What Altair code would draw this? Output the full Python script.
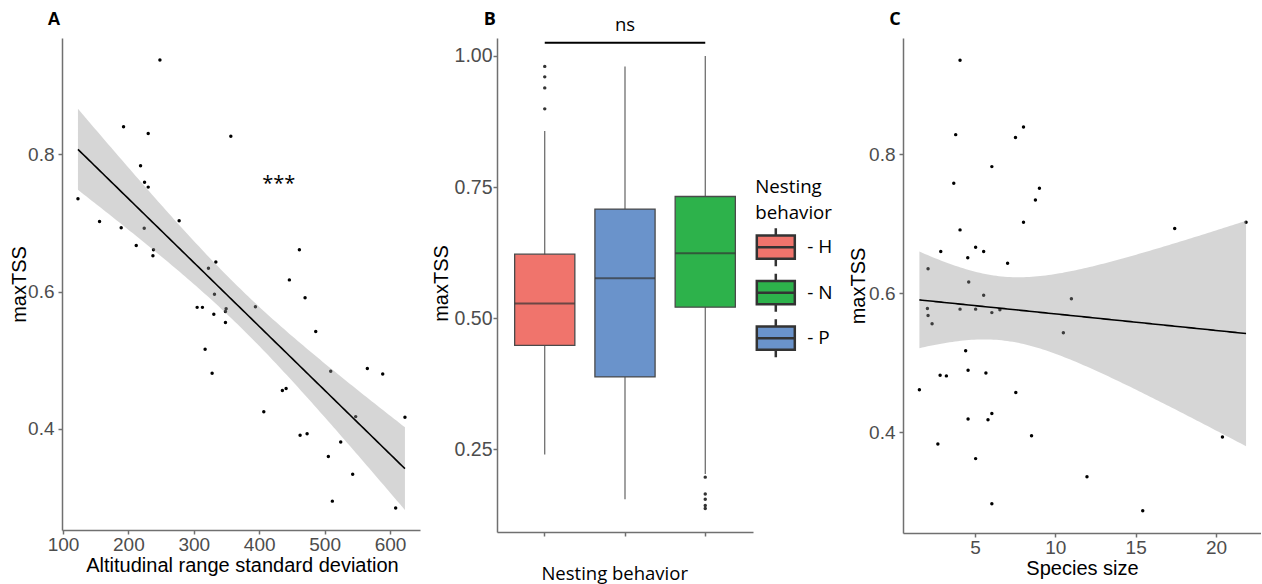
import altair as alt
import numpy as np
import pandas as pd

# ---------------- data ----------------
# Panel A: altitudinal range SD vs maxTSS
alt_sd = [248.2, 122.9, 192.6, 230.3, 356.6, 218.6, 224.7, 230.3, 155.9, 277.6,
          189.0, 224.2, 212.0, 238.4, 237.5, 461.4, 333.7, 322.4, 446.1, 331.6,
          470.1, 305.1, 313.2, 394.2, 349.4, 348.4, 330.6, 348.4, 486.4, 317.3,
          328.0, 509.3, 565.3, 588.8, 435.4, 441.1, 407.0, 547.5, 622.8, 462.5,
          473.2, 524.6, 505.7, 542.9, 511.8, 608.6]
tss_a = [0.937, 0.735, 0.840, 0.830, 0.826, 0.783, 0.759, 0.752, 0.702, 0.703,
         0.693, 0.692, 0.667, 0.661, 0.652, 0.661, 0.643, 0.634, 0.617, 0.596,
         0.591, 0.577, 0.577, 0.578, 0.575, 0.571, 0.567, 0.555, 0.542, 0.516,
         0.481, 0.484, 0.488, 0.480, 0.456, 0.459, 0.425, 0.418, 0.417, 0.391,
         0.393, 0.381, 0.360, 0.334, 0.295, 0.285]

# Panel C: species size vs maxTSS
species_size = [4.07, 8.02, 3.80, 7.52, 6.05, 3.68, 9.01, 8.76, 8.02, 21.87,
                4.07, 17.43, 2.87, 5.04, 5.54, 4.55, 7.03, 2.08, 4.61, 5.54,
                11.0, 2.04, 4.07, 5.04, 6.55, 6.05, 2.08, 2.33, 10.50, 4.42,
                4.57, 2.83, 3.22, 5.68, 1.54, 7.54, 6.05, 4.57, 5.81, 8.52,
                20.40, 2.69, 5.04, 11.97, 6.05, 15.44]
tss_c = [0.935, 0.839, 0.828, 0.824, 0.782, 0.758, 0.751, 0.734, 0.702, 0.702,
         0.691, 0.693, 0.660, 0.666, 0.660, 0.651, 0.643, 0.635, 0.616, 0.597,
         0.592, 0.578, 0.577, 0.577, 0.576, 0.572, 0.568, 0.556, 0.543, 0.517,
         0.489, 0.482, 0.481, 0.485, 0.461, 0.457, 0.427, 0.419, 0.418, 0.395,
         0.393, 0.383, 0.362, 0.336, 0.297, 0.287]

# Panel B: box plot summaries by nesting behavior
nesting = ["H", "P", "N"]
q1 = [0.448, 0.388, 0.521]
median = [0.528, 0.576, 0.624]
q3 = [0.622, 0.708, 0.732]
whisk_lo = [0.240, 0.155, 0.203]
whisk_hi = [0.857, 0.980, 1.000]
out_cat = ["H", "H", "H", "H", "N", "N", "N", "N", "N"]
out_val = [0.980, 0.960, 0.939, 0.899, 0.197, 0.165, 0.155, 0.143, 0.137]

legend_order = ["H", "N", "P"]
legend_colors = ["#F0746C", "#2DB24B", "#6A93CB"]

ticks_a = [100, 200, 300, 400, 500, 600]
ticks_ac_y = [0.4, 0.6, 0.8]
ticks_b_y = [0.25, 0.50, 0.75, 1.00]
ticks_c = [5, 10, 15, 20]

# ---------------- helpers ----------------
T975 = 2.0154  # t quantile, df = 44


def lm_band(x, y, n=120):
    x = np.asarray(x, float)
    y = np.asarray(y, float)
    b1, b0 = np.polyfit(x, y, 1)
    res = y - (b0 + b1 * x)
    s = np.sqrt((res ** 2).sum() / (len(x) - 2))
    xs = np.linspace(x.min(), x.max(), n)
    se = s * np.sqrt(1 / len(x) + (xs - x.mean()) ** 2 / ((x - x.mean()) ** 2).sum())
    f = b0 + b1 * xs
    return pd.DataFrame({"xv": xs, "yv": f, "lo": f - T975 * se, "hi": f + T975 * se})


SANS = "Liberation Sans"
CAL = "Open Sans"
AXC = "#707070"
AX = dict(grid=False, domainColor=AXC, domainWidth=1.5, tickColor=AXC, tickWidth=1.5,
          tickSize=4, labelFont=SANS, labelColor="#4D4D4D", titleFont=SANS,
          titleColor="black", titleFontWeight="normal", titleFontSize=20,
          labelFlush=False, labelOverlap=False)


def label_layer(letter, dx, dy, font):
    return alt.Chart(pd.DataFrame({"t": [letter]})).mark_text(
        font=font, fontSize=18, fontWeight="bold", color="black",
        align="center", baseline="middle"
    ).encode(text="t:N", x=alt.value(dx), y=alt.value(dy))


def scatter_panel(xs, ys, xdom, ydom, w, h, xticks, xtitle, xtitle_x, ytitle_x, letter, letter_font):
    pts = pd.DataFrame({"xv": xs, "yv": ys})
    fit = lm_band(xs, ys)
    X = alt.X("xv:Q", scale=alt.Scale(domain=xdom, nice=False, zero=False),
              axis=alt.Axis(values=xticks, labelFontSize=19, labelPadding=1, title=xtitle,
                            titleX=xtitle_x, titleY=41, titleBaseline="alphabetic",
                            titleAlign="center", **AX))
    Y = alt.Y("yv:Q", scale=alt.Scale(domain=ydom, nice=False, zero=False),
              axis=alt.Axis(values=ticks_ac_y, format=".1f", labelFontSize=19, labelPadding=4,
                            title="maxTSS", titleX=ytitle_x, titleY=h / 2, titleAngle=270,
                            titleBaseline="middle", titleAlign="center", **AX))
    p = alt.Chart(pts).mark_circle(size=12, color="black", opacity=1).encode(x=X, y=Y)
    band = alt.Chart(fit).mark_area(color="#999999", opacity=0.4).encode(
        x="xv:Q", y="lo:Q", y2="hi:Q")
    line = alt.Chart(fit).mark_line(color="black", strokeWidth=1.6).encode(x="xv:Q", y="yv:Q")
    lab = label_layer(letter, -8, -18.5, letter_font)
    return alt.layer(p, band, line, lab).properties(width=w, height=h)


# ---------------- panel A ----------------
stars = pd.DataFrame({"xv": [430.0], "yv": [0.757], "t": ["***"]})
chart_a = scatter_panel(alt_sd, tss_a, [98.5, 645.8], [0.253, 0.969], 358, 492,
                        ticks_a, "Altitudinal range standard deviation", 180, -42.7, "A", SANS)
chart_a = alt.layer(
    chart_a,
    alt.Chart(stars).mark_text(font=CAL, fontSize=20, color="black", baseline="middle").encode(
        x="xv:Q", y="yv:Q", text="t:N"),
)

# ---------------- panel C ----------------
chart_c = scatter_panel(species_size, tss_c, [0.52, 22.8], [0.255, 0.967], 358, 495,
                        ticks_c, "Species size", 179, -44.3, "C", CAL)

# ---------------- panel B ----------------
stats = pd.DataFrame({"cat": nesting, "q1": q1, "med": median, "q3": q3,
                      "lo": whisk_lo, "hi": whisk_hi})
outl = pd.DataFrame({"cat": out_cat, "val": out_val})
bracket = pd.DataFrame({"a": ["H"], "b": ["N"], "y": [1.025], "mid": ["P"], "yt": [1.058], "t": ["ns"]})

HB = 494
xb = alt.X("cat:N", sort=nesting,
           scale=alt.Scale(domain=nesting, range=[0, 256], paddingInner=0.25, paddingOuter=0.22),
           axis=alt.Axis(labels=False, title=None, **{k: v for k, v in AX.items() if k != "labelFlush"}))
yb = alt.Y("lo:Q", scale=alt.Scale(domain=[0.0924, 1.0341], nice=False, zero=False),
           axis=alt.Axis(values=ticks_b_y, format=".2f", labelFontSize=19.5, labelPadding=1,
                         title="maxTSS", titleX=-55.3, titleY=245, titleAngle=270,
                         titleBaseline="middle", titleAlign="center", **AX))

box_symbol = "M-1,-0.61H1V0.61H-1Z M-1,0H1 M0,-0.61V-1 M0,0.61V1"

whiskers = alt.Chart(stats).mark_rule(color="#555555", strokeWidth=1.1).encode(
    x=xb, y=yb, y2="hi:Q")
boxes = alt.Chart(stats).mark_bar(stroke="#4A4A4A", strokeWidth=1.3, opacity=1).encode(
    x=alt.X("cat:N", sort=nesting), y="q1:Q", y2="q3:Q",
    fill=alt.Fill("cat:N", scale=alt.Scale(domain=legend_order, range=legend_colors),
                  legend=alt.Legend(
                      title=["Nesting", "behavior"], orient="none", legendX=693.3, legendY=140,
                      titleFont=CAL, titleFontSize=18.7, titleFontWeight="normal",
                      titleColor="black", titleLineHeight=26, titlePadding=4,
                      symbolType=box_symbol, symbolSize=1444, symbolStrokeColor="#333333",
                      symbolStrokeWidth=2.5, symbolOpacity=1,
                      labelExpr="'- ' + datum.label", labelFont=CAL, labelFontSize=19,
                      labelColor="black", labelOffset=11, rowPadding=-3.5)))
medians = alt.Chart(stats).mark_tick(color="#333333", thickness=2, size=60).encode(
    x=alt.X("cat:N", sort=nesting), y="med:Q")
outliers = alt.Chart(outl).mark_circle(size=12, color="#333333", opacity=1).encode(
    x=alt.X("cat:N", sort=nesting), y="val:Q")
sig_line = alt.Chart(bracket).mark_rule(color="black", strokeWidth=2).encode(
    x=alt.X("a:N", sort=nesting), x2="b:N", y="y:Q")
sig_text = alt.Chart(bracket).mark_text(font=CAL, fontSize=18.5, color="black", baseline="middle").encode(
    x=alt.X("mid:N", sort=nesting), y="yt:Q", text="t:N")
xb_title = alt.Chart(pd.DataFrame({"t": ["Nesting behavior"]})).mark_text(
    font=CAL, fontSize=18.5, color="black", baseline="middle", align="center").encode(
    text="t:N", x=alt.value(117.7), y=alt.value(536))

chart_b = alt.layer(whiskers, boxes, medians, outliers, sig_line, sig_text, xb_title,
                    label_layer("B", -7.3, -18.4, CAL)).properties(width=329, height=HB)

chart = alt.hconcat(chart_a, chart_b, chart_c, spacing=77, bounds="flush").properties(
    padding={"left": 9, "top": 10, "right": 0, "bottom": 0}, background="white"
).configure_view(stroke=None)

chart.save("out.html", embed_options={"renderer": "svg", "actions": False})
